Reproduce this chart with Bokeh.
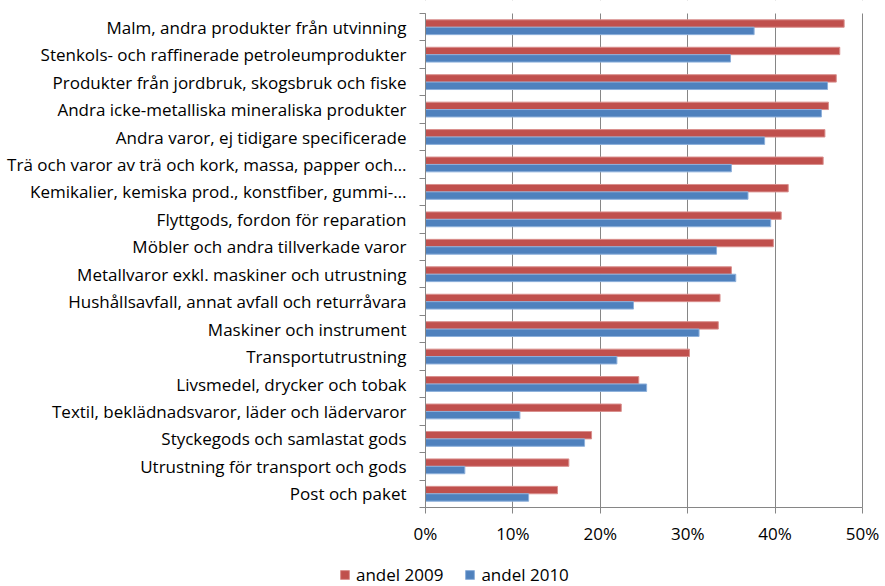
from bokeh.plotting import figure
from bokeh.models import (FixedTicker, Legend, LegendItem, ColumnDataSource, Range1d,
                          BoxAnnotation)
from bokeh.transform import dodge
from bokeh.embed import file_html
from bokeh.resources import INLINE

categories = [
    "Malm, andra produkter från utvinning",
    "Stenkols- och raffinerade petroleumprodukter",
    "Produkter från jordbruk, skogsbruk och fiske",
    "Andra icke-metalliska mineraliska produkter",
    "Andra varor, ej tidigare specificerade",
    "Trä och varor av trä och kork, massa, papper och…",
    "Kemikalier, kemiska prod., konstfiber, gummi-…",
    "Flyttgods, fordon för reparation",
    "Möbler och andra tillverkade varor",
    "Metallvaror exkl. maskiner och utrustning",
    "Hushållsavfall, annat avfall och returråvara",
    "Maskiner och instrument",
    "Transportutrustning",
    "Livsmedel, drycker och tobak",
    "Textil, beklädnadsvaror, läder och lädervaror",
    "Styckegods och samlastat gods",
    "Utrustning för transport och gods",
    "Post och paket",
]
andel_2009 = [47.9, 47.4, 47.0, 46.1, 45.7, 45.5, 41.5, 40.7, 39.8, 35.0,
              33.7, 33.5, 30.2, 24.4, 22.4, 19.0, 16.4, 15.1]
andel_2010 = [37.6, 34.9, 46.0, 45.3, 38.8, 35.0, 36.9, 39.5, 33.3, 35.5,
              23.8, 31.3, 21.9, 25.3, 10.8, 18.2, 4.5, 11.8]
x_ticks = [0, 10, 20, 30, 40, 50]
x_tick_labels = ["0%", "10%", "20%", "30%", "40%", "50%"]
series_names = ["andel 2009", "andel 2010"]

RED = "#C0504D"
BLUE = "#4F81BD"
RED_EDGE = "#D98F8D"
BLUE_EDGE = "#8DB0DB"
GRID = "#868686"
FONT = "Open Sans"

# layout geometry (pixels)
W, H = 885, 586
PLOT_L, PLOT_R, PLOT_T, PLOT_B = 425, 862, 13, 507

n = len(categories)
centers = [n - i - 0.5 for i in range(n)]
x_max = x_ticks[-1]
xu = x_max / (PLOT_R - PLOT_L)   # data units per pixel
yu = n / (PLOT_B - PLOT_T)

p = figure(width=W, height=H, output_backend="svg", toolbar_location=None,
           x_range=Range1d(-PLOT_L * xu, (W - PLOT_L) * xu),
           y_range=Range1d(-(H - PLOT_B) * yu, n + PLOT_T * yu),
           min_border=0, min_border_left=0, min_border_right=0,
           min_border_top=0, min_border_bottom=0)
p.outline_line_color = None
p.background_fill_color = "white"

src = ColumnDataSource(dict(cat=categories, y=centers, v09=andel_2009, v10=andel_2010))

r09 = p.hbar(y=dodge("y", 0.135, range=p.y_range), left=0, right="v09", height=0.27,
             source=src, fill_color=RED, line_color=RED_EDGE, line_width=1)
r10 = p.hbar(y=dodge("y", -0.135, range=p.y_range), left=0, right="v10", height=0.27,
             source=src, fill_color=BLUE, line_color=BLUE_EDGE, line_width=1)

# grids
p.ygrid.visible = False
p.xgrid.ticker = FixedTicker(ticks=x_ticks)
p.xgrid.grid_line_color = GRID
p.xgrid.grid_line_width = 1
# keep vertical grid lines inside the plotting area only
p.add_layout(BoxAnnotation(top=0, fill_color="white", fill_alpha=1, line_alpha=0,
                           level="underlay"))
p.add_layout(BoxAnnotation(bottom=n, fill_color="white", fill_alpha=1, line_alpha=0,
                           level="underlay"))

# x axis
xa = p.xaxis[0]
xa.fixed_location = 0
xa.bounds = (0, x_max)
xa.ticker = FixedTicker(ticks=x_ticks)
xa.major_label_overrides = {t: l for t, l in zip(x_ticks, x_tick_labels)}
xa.major_tick_out = 6
xa.major_tick_in = 0
xa.minor_tick_out = 0
xa.minor_tick_in = 0
xa.axis_line_color = GRID
xa.major_tick_line_color = GRID
xa.major_label_text_font = FONT
xa.major_label_text_font_size = "17px"
xa.major_label_text_color = "black"
xa.major_label_standoff = 8

# y axis
ya = p.yaxis[0]
ya.fixed_location = 0
ya.bounds = (0, n)
ya.ticker = FixedTicker(ticks=centers, minor_ticks=list(range(n + 1)))
ya.major_label_overrides = {c: cat for c, cat in zip(centers, categories)}
ya.major_tick_out = 0
ya.major_tick_in = 0
ya.minor_tick_out = 6
ya.minor_tick_in = 0
ya.minor_tick_line_color = GRID
ya.axis_line_color = GRID
ya.major_label_text_font = FONT
ya.major_label_text_font_size = "17px"
ya.major_label_text_color = "black"
ya.major_label_standoff = 13

legend = Legend(items=[LegendItem(label=series_names[0], renderers=[r09]),
                       LegendItem(label=series_names[1], renderers=[r10])],
                orientation="horizontal", location=(339, 0),
                glyph_width=11, glyph_height=11, label_standoff=6, spacing=21,
                padding=0, margin=0, border_line_color=None,
                background_fill_alpha=0, label_text_font=FONT,
                label_text_font_size="17px", label_text_color="black")
p.add_layout(legend)

open("out.html", "w").write(file_html(p, INLINE))
